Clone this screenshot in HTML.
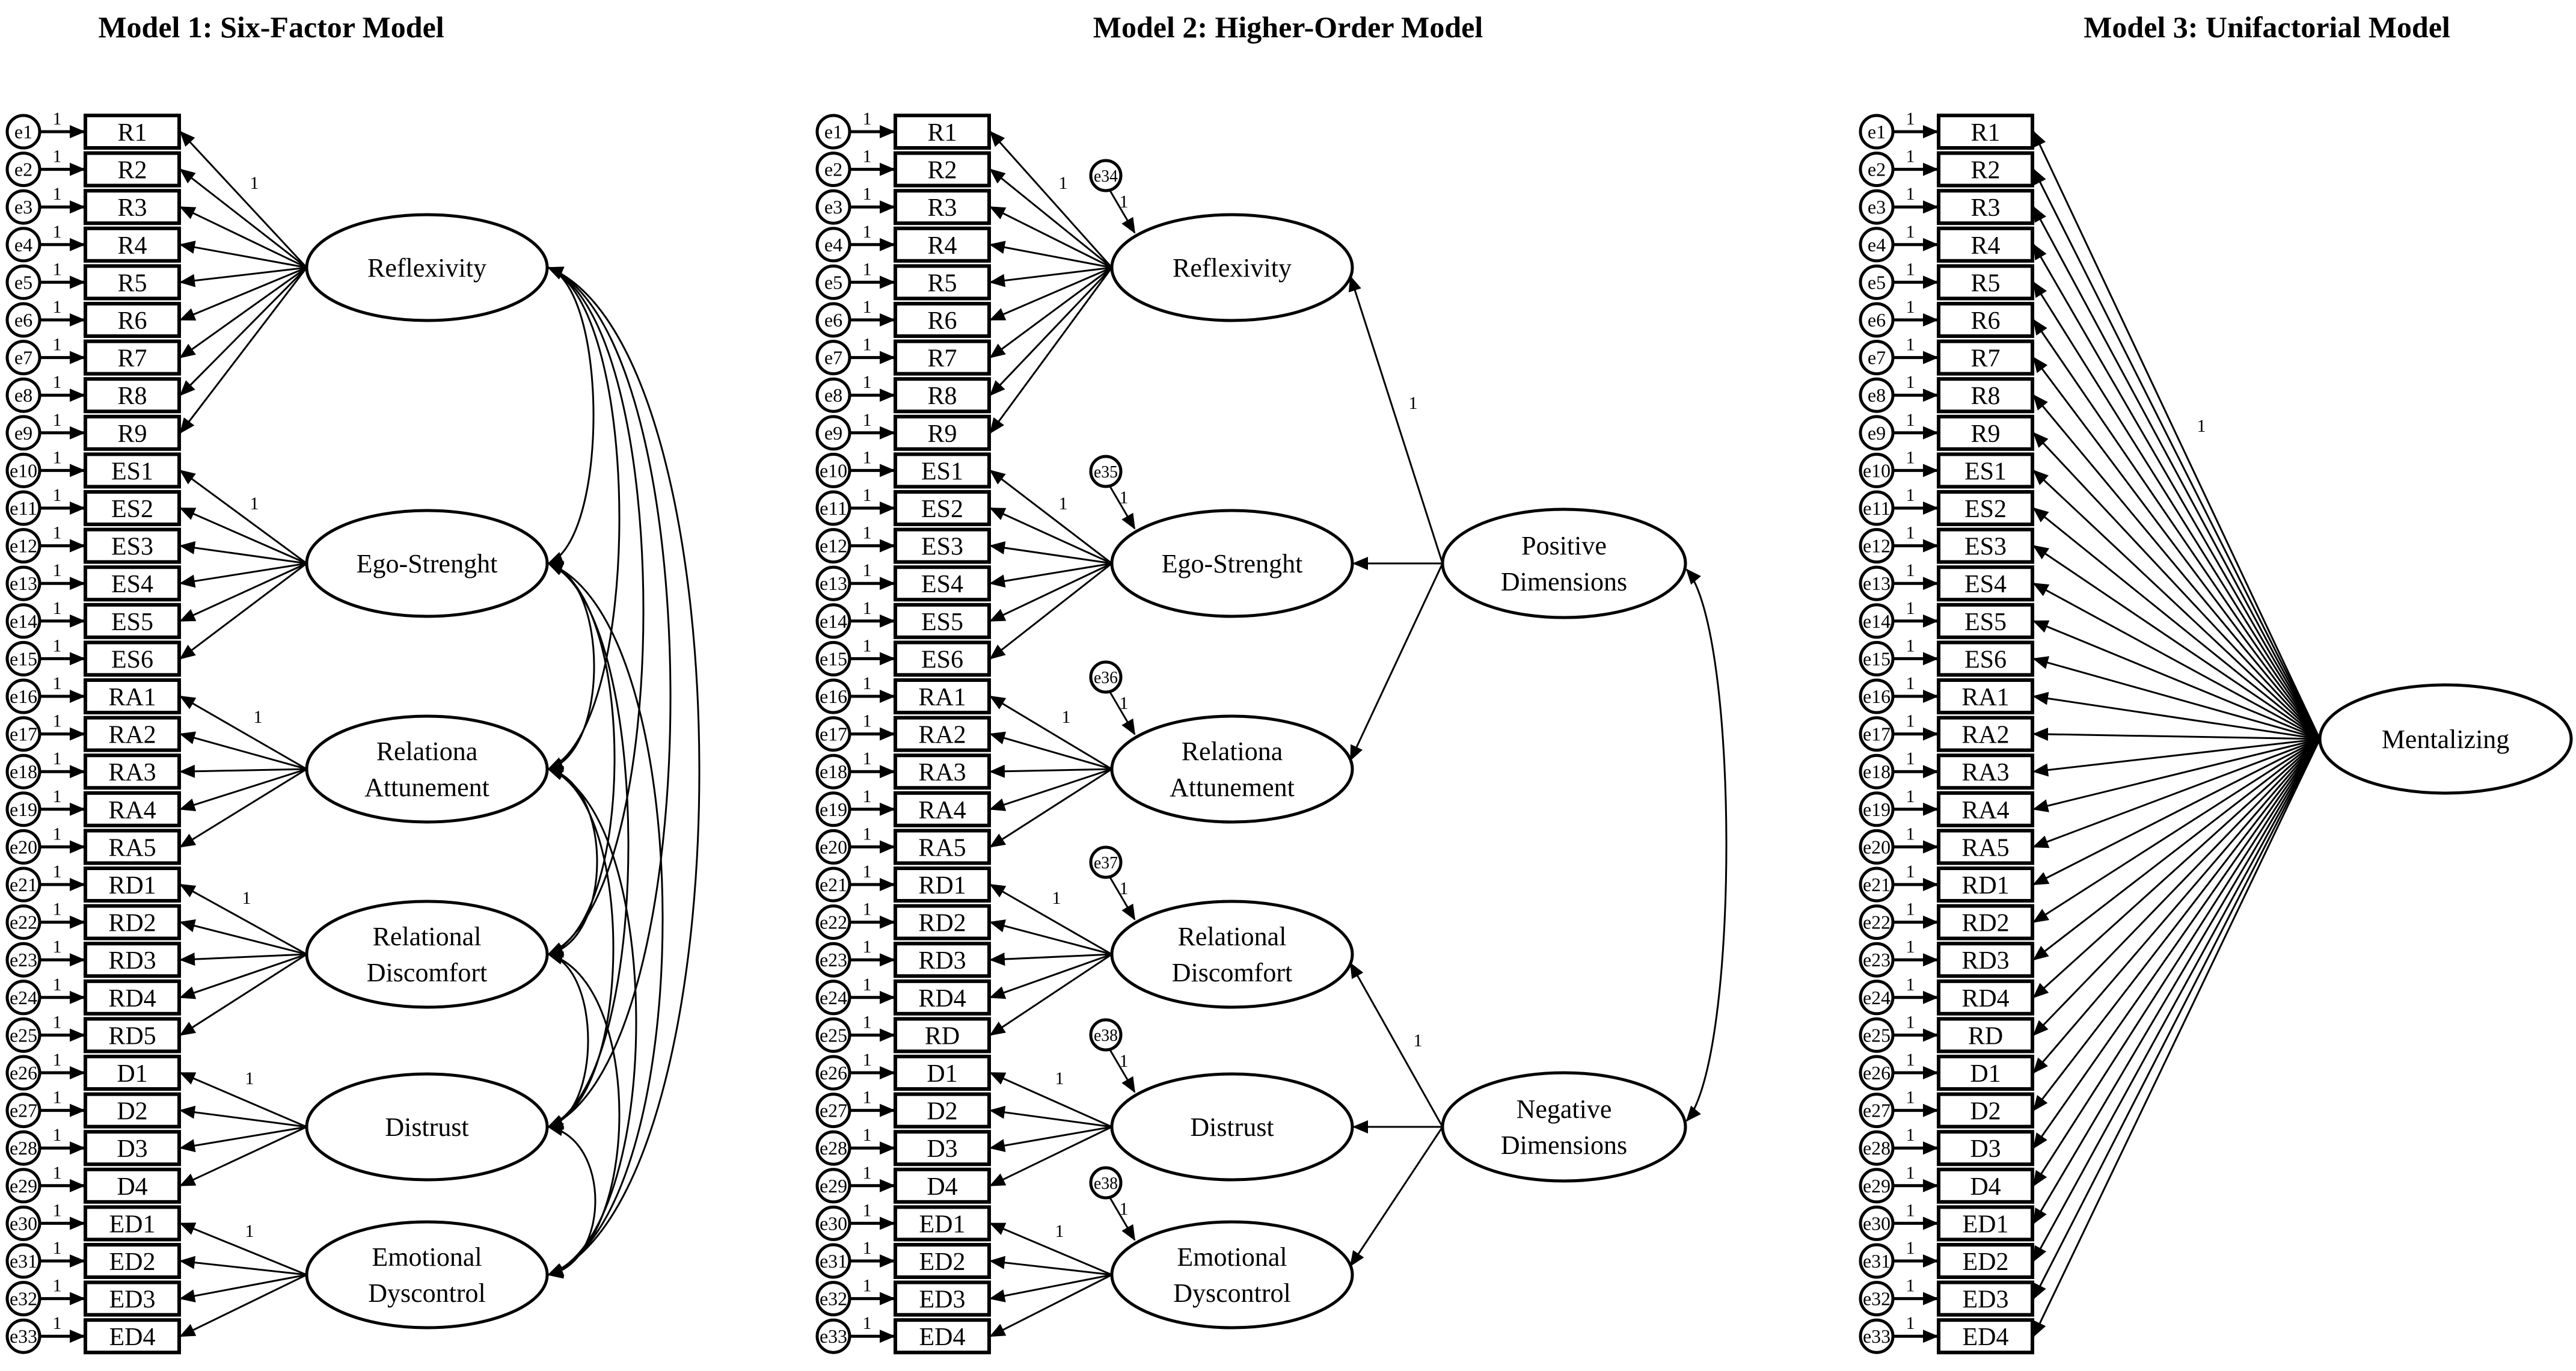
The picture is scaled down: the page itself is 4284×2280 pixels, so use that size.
<!DOCTYPE html>
<html><head><meta charset="utf-8"><style>
html,body{margin:0;padding:0;background:#fff;}
svg{display:block;}
text{font-family:"Liberation Serif",serif;fill:#000;}
</style></head><body>
<svg id="s" width="4284" height="2280" viewBox="0 0 4284 2280" xmlns="http://www.w3.org/2000/svg">
<defs>
<marker id="a" markerUnits="userSpaceOnUse" markerWidth="26" markerHeight="22" refX="24" refY="11" orient="auto-start-reverse" viewBox="0 0 26 22"><path d="M0,0 L26,11 L0,22 Z" fill="#000"/></marker>
</defs>
<text x="451" y="62" font-size="50" font-weight="bold" text-anchor="middle">Model 1: Six-Factor Model</text>
<text x="2142" y="62" font-size="50" font-weight="bold" text-anchor="middle">Model 2: Higher-Order Model</text>
<text x="3770" y="62" font-size="50" font-weight="bold" text-anchor="middle">Model 3: Unifactorial Model</text>
</svg>
<script>
(function(){
var s=document.getElementById('s'),NS='http://www.w3.org/2000/svg';
function el(t,a,txt){var e=document.createElementNS(NS,t);for(var k in a)e.setAttribute(k,a[k]);if(txt!==undefined)e.textContent=txt;s.appendChild(e);return e;}
function line(x1,y1,x2,y2,w,arr){var a={x1:x1,y1:y1,x2:x2,y2:y2,stroke:'#000','stroke-width':w||3};if(arr)a['marker-end']='url(#a)';el('line',a);}
function txt(x,y,sz,t,extra){var a={x:x,y:y,'font-size':sz,'text-anchor':'middle'};for(var k in extra)a[k]=extra[k];el('text',a,t);}
var base=['R1','R2','R3','R4','R5','R6','R7','R8','R9','ES1','ES2','ES3','ES4','ES5','ES6','RA1','RA2','RA3','RA4','RA5','RD1','RD2','RD3','RD4','RD5','D1','D2','D3','D4','ED1','ED2','ED3','ED4'];
function rowY(i){return 219+i*62.6;}
function items(bx,m){
 for(var i=0;i<33;i++){
  var y=rowY(i),lab=base[i];
  if(m>1&&lab==='RD5')lab='RD';
  el('rect',{x:bx,y:y-27,width:156,height:54,fill:'#fff',stroke:'#000','stroke-width':6});
  txt(bx+78,y+15,42,lab);
  var cx=bx-103;
  el('circle',{cx:cx,cy:y,r:27,fill:'#fff',stroke:'#000','stroke-width':5});
  var e='e'+(i+1);
  var a={};
  if(e.length>2)a={textLength:46,lengthAdjust:'spacingAndGlyphs'};
  txt(cx,y+11,32,e,a);
  line(cx+28,y,bx-2,y,5,true);
  txt(bx-47,y-12,30,'1');
 }
}
var fy=[445,937,1279,1587,1874,2120];
var fl=[['Reflexivity'],['Ego-Strenght'],['Relationa','Attunement'],['Relational','Discomfort'],['Distrust'],['Emotional','Dyscontrol']];
var groups=[[0,8],[9,14],[15,19],[20,24],[25,28],[29,32]];
function ell(cx,cy,rx,ry,lines){
 el('ellipse',{cx:cx,cy:cy,rx:rx,ry:ry,fill:'#fff',stroke:'#000','stroke-width':5});
 if(lines.length==1)txt(cx,cy+15,44,lines[0]);
 else{txt(cx,cy-15,44,lines[0]);txt(cx,cy+45,44,lines[1]);}
}
function factors(cx,bx,lab1){
 for(var f=0;f<6;f++){
  var g=groups[f];
  for(var i=g[0];i<=g[1];i++)line(cx-200,fy[f],bx+158,rowY(i),3,true);
 }
 for(var f=0;f<6;f++){
  ell(cx,fy[f],200,88,fl[f]);
  txt(lab1[f][0],lab1[f][1],30,'1');
 }
}
items(142,1);
var l1=[[423,314],[423,847],[429,1202],[410,1503],[415,1803],[415,2057]];
var bul={'01':987,'02':1030,'03':1070,'04':1115,'05':1163,'12':988,'13':1022,'14':1045,'15':1102,'23':993,'24':1020,'25':1058,'34':978,'35':1030,'45':990};
var ex=912;
for(var k in bul){
 var i=+k[0],j=+k[1],y1=fy[i],y2=fy[j],c=ex+(bul[k]-ex)/0.75,d=(y2-y1)*0.08;
 el('path',{d:'M'+ex+','+y1+' C'+c+','+(y1+d)+' '+c+','+(y2-d)+' '+ex+','+y2,fill:'none',stroke:'#000','stroke-width':3,'marker-start':'url(#a)','marker-end':'url(#a)'});
}
factors(710,142,l1);
items(1489,2);
var l2=[[1768,314],[1768,847],[1773,1202],[1757,1503],[1762,1803],[1762,2057]];
factors(2049,1489,l2);
var en=['e34','e35','e36','e37','e38','e38'];
for(var f=0;f<6;f++){
 var cx=2049,cy=fy[f];
 el('circle',{cx:cx-210,cy:cy-153,r:25,fill:'#fff',stroke:'#000','stroke-width':5});
 txt(cx-210,cy-143,28,en[f],{textLength:40,lengthAdjust:'spacingAndGlyphs'});
 line(cx-203,cy-128,cx-162,cy-58,3,true);
 txt(cx-180,cy-100,30,'1');
}
var px=2601,py=937,ny=1874;
line(px-202,py,2246,460,3,true);
line(px-202,py,2251,937,3,true);
line(px-202,py,2246,1264,3,true);
line(px-202,ny,2246,1602,3,true);
line(px-202,ny,2251,1874,3,true);
line(px-202,ny,2246,2105,3,true);
txt(2350,680,30,'1');txt(2358,1740,30,'1');
el('path',{d:'M2805,947 C2893,1050 2893,1760 2805,1864',fill:'none',stroke:'#000','stroke-width':3,'marker-start':'url(#a)','marker-end':'url(#a)'});
ell(px,py,202,90,['Positive','Dimensions']);
ell(px,ny,202,90,['Negative','Dimensions']);
items(3224,3);
for(var i=0;i<33;i++)line(3858,1229,3382,rowY(i),3,true);
ell(4067,1229,209,90,['Mentalizing']);
txt(3661,718,30,'1');
})();
</script>
</body></html>
